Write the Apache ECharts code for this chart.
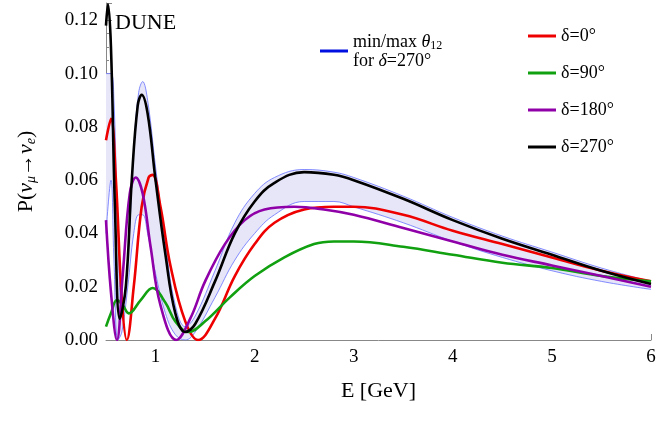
<!DOCTYPE html>
<html lang="en">
<head>
    <meta charset="UTF-8">
    <title>DUNE</title>
    <script type="text/javascript" src="https://cdn.jsdelivr.net/npm/echarts@6/dist/echarts.min.js"></script>
</head>
<body style="margin:0">
<div id="chart" style="width:664px;height:424px;"></div>
<script type="text/javascript">
// energies (GeV) and probabilities
var eBlack = [0.5, 0.52, 0.55, 0.59, 0.64, 0.7, 0.76, 0.82, 0.86, 0.92, 1.0, 1.1, 1.2, 1.3, 1.4, 1.6, 1.8, 2.0, 2.2, 2.5, 2.8, 3.0, 3.5, 4.0, 4.5, 5.0, 5.5, 6.0];
var pBlack = [0.118, 0.126, 0.11, 0.05, 0.008, 0.02, 0.06, 0.088, 0.092, 0.085, 0.06, 0.032, 0.01, 0.003, 0.006, 0.022, 0.04, 0.052, 0.059, 0.063, 0.062, 0.06, 0.053, 0.045, 0.038, 0.032, 0.026, 0.021];
var eRed = [0.5, 0.55, 0.6, 0.66, 0.71, 0.78, 0.86, 0.93, 0.97, 1.05, 1.15, 1.3, 1.43, 1.6, 1.8, 2.0, 2.2, 2.5, 2.8, 3.0, 3.5, 4.0, 4.5, 5.0, 5.5, 6.0];
var pRed = [0.075, 0.083, 0.06, 0.015, 0.0, 0.02, 0.05, 0.061, 0.062, 0.05, 0.028, 0.007, 0.0, 0.008, 0.024, 0.036, 0.044, 0.049, 0.05, 0.05, 0.047, 0.041, 0.036, 0.031, 0.026, 0.022];
var eMag = [0.5, 0.55, 0.61, 0.67, 0.74, 0.8, 0.87, 0.95, 1.05, 1.21, 1.35, 1.5, 1.7, 1.9, 2.1, 2.4, 2.7, 3.0, 3.5, 4.0, 4.5, 5.0, 5.5, 6.0];
var pMag = [0.045, 0.018, 0.0, 0.025, 0.055, 0.061, 0.055, 0.035, 0.013, 0.0, 0.008, 0.022, 0.036, 0.045, 0.049, 0.05, 0.049, 0.047, 0.042, 0.037, 0.032, 0.028, 0.024, 0.02];
var eGreen = [0.5, 0.55, 0.61, 0.67, 0.73, 0.85, 0.97, 1.1, 1.2, 1.33, 1.5, 1.75, 2.0, 2.3, 2.6, 2.8, 3.0, 3.5, 4.0, 4.5, 5.0, 5.5, 6.0];
var pGreen = [0.005, 0.01, 0.015, 0.013, 0.01, 0.015, 0.0195, 0.014, 0.007, 0.003, 0.007, 0.016, 0.024, 0.031, 0.036, 0.037, 0.037, 0.035, 0.032, 0.029, 0.027, 0.024, 0.022];
// theta12 band around delta=270
var eBand = [0.5, 0.55, 0.58, 0.62, 0.66, 0.72, 0.78, 0.83, 0.87, 0.92, 1.0, 1.1, 1.2, 1.3, 1.4, 1.6, 1.8, 2.0, 2.2, 2.5, 2.8, 3.0, 3.5, 4.0, 4.5, 5.0, 5.5, 6.0];
var pLow = [0.04, 0.06, 0.03, 0.0, 0.003, 0.02, 0.04, 0.047, 0.047, 0.04, 0.025, 0.01, 0.002, 0.0, 0.003, 0.016, 0.03, 0.04, 0.047, 0.052, 0.052, 0.05, 0.044, 0.037, 0.031, 0.026, 0.022, 0.019];
var pHigh = [0.1, 0.1, 0.09, 0.04, 0.012, 0.03, 0.072, 0.093, 0.097, 0.09, 0.065, 0.036, 0.013, 0.005, 0.009, 0.026, 0.044, 0.055, 0.061, 0.064, 0.063, 0.061, 0.054, 0.046, 0.039, 0.033, 0.027, 0.022];

function pairs(xs, ys) {
    return xs.map(function (x, i) { return [x, ys[i]]; });
}

var font = 'Liberation Serif';
var dom = document.getElementById('chart');
var myChart = echarts.init(dom);
var lineSeries = function (name, color, xs, ys) {
    return {
        name: name, type: 'line', smooth: 0.4, showSymbol: false, z: 5,
        lineStyle: {color: color, width: 2.6}, itemStyle: {color: color},
        data: pairs(xs, ys)
    };
};
var option = {
    animation: false,
    textStyle: {fontFamily: font},
    grid: {left: 106, right: 13, top: 3, bottom: 84},
    legend: [{
        data: ['min/max θ12'],
        left: 315, top: 28, itemWidth: 28, itemHeight: 3,
        icon: 'rect',
        formatter: function () { return '{a|min/max }{i|θ}{s|12}\n{a|for }{i|δ}{a|=270°}'; },
        textStyle: {fontSize: 18, color: '#000', fontFamily: font, align: 'right',
            rich: {a: {fontSize: 18, fontFamily: font}, i: {fontSize: 18, fontStyle: 'italic', fontFamily: font},
                s: {fontSize: 12, fontFamily: font, verticalAlign: 'bottom', padding: [8, 0, 0, 0]}}}
    }, {
        data: ['δ=0°', 'δ=90°', 'δ=180°', 'δ=270°'],
        orient: 'vertical', left: 523, top: 22, itemGap: 19, itemWidth: 28, itemHeight: 3,
        icon: 'rect',
        textStyle: {fontSize: 18, color: '#000', fontFamily: font}
    }],
    xAxis: {
        type: 'value', min: 0.5, max: 6, interval: 1,
        name: 'E [GeV]', nameLocation: 'middle', nameGap: 40,
        nameTextStyle: {fontSize: 22, color: '#000', fontFamily: font},
        axisLabel: {fontSize: 19, color: '#000', fontFamily: font,
            customValues: [1, 2, 3, 4, 5, 6]},
        axisTick: {customValues: [1, 2, 3, 4, 5, 6], inside: true, length: 6},
        minorTick: {show: true, splitNumber: 5, length: 3},
        axisLine: {lineStyle: {color: '#888'}},
        splitLine: {show: false}
    },
    yAxis: {
        type: 'value', min: 0, max: 0.1265, interval: 0.02,
        name: '{n|P(}{i|ν}{s|μ}{n|→}{i|ν}{s|e}{n|)}', nameLocation: 'middle', nameGap: 68,
        nameTextStyle: {color: '#000', rich: {
            n: {fontSize: 22, fontFamily: font}, i: {fontSize: 22, fontStyle: 'italic', fontFamily: font},
            s: {fontSize: 14, fontStyle: 'italic', fontFamily: font, verticalAlign: 'bottom', padding: [10, 0, 0, 0]}}},
        axisLabel: {fontSize: 19, color: '#000', fontFamily: font,
            formatter: function (v) { return v.toFixed(2); }},
        axisTick: {inside: true, length: 6},
        minorTick: {show: true, splitNumber: 4, length: 3},
        axisLine: {show: true, lineStyle: {color: '#888'}},
        splitLine: {show: false}
    },
    series: [
        // upper edge filled down to zero, lower edge then painted white below it
        {name: 'min/max θ12', type: 'line', smooth: 0.4, showSymbol: false, z: 1,
            lineStyle: {color: '#6670ff', width: 0.8}, itemStyle: {color: '#0010e0'},
            areaStyle: {color: '#e6e6f8', opacity: 1}, data: pairs(eBand, pHigh)},
        {name: 'bandLow', type: 'line', smooth: 0.4, showSymbol: false, silent: true, z: 2,
            lineStyle: {color: '#6670ff', width: 0.8},
            areaStyle: {color: '#ffffff', opacity: 1}, data: pairs(eBand, pLow)},
        lineSeries('δ=0°', '#ee0000', eRed, pRed),
        lineSeries('δ=90°', '#10a010', eGreen, pGreen),
        lineSeries('δ=180°', '#9000a8', eMag, pMag),
        lineSeries('δ=270°', '#000000', eBlack, pBlack)
    ],
    graphic: [{type: 'text', left: 115, top: 12,
        style: {text: 'DUNE', fontSize: 22, fontFamily: font, fill: '#000'}}]
};
myChart.setOption(option, true);
</script>
</body>
</html>
